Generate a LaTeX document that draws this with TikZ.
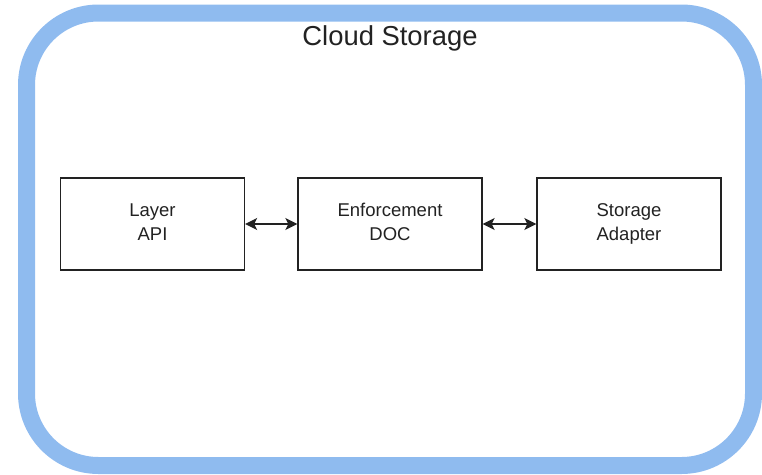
\documentclass[tikz,border=0pt]{standalone}
\usepackage{fontspec}
\setmainfont{Liberation Sans}
\usetikzlibrary{arrows.meta}
\definecolor{frameblue}{RGB}{143,187,239}
\definecolor{inkgray}{RGB}{34,34,34}
\tikzset{
  component/.style={draw=inkgray, line width=1.3pt, minimum width=184pt, minimum height=92pt,
    inner sep=0pt, align=center, font=\fontsize{18.5pt}{24pt}\selectfont, text=inkgray},
  link/.style={line width=1.6pt, inkgray, {Stealth[length=12pt,width=12pt,inset=3pt]}-{Stealth[length=12pt,width=12pt,inset=3pt]}}
}
\begin{document}
\begin{tikzpicture}[x=1pt,y=-1pt]
  \useasboundingbox (0,0) rectangle (762,474);
  % storage frame
  \draw[frameblue, line width=17pt, rounded corners=72pt] (26.5,13) rectangle (753.5,465.5);
  \node[font=\fontsize{27.4pt}{32pt}\selectfont, text=inkgray] (title) at (390,38) {Cloud Storage};
  % components
  \node[component] (api) at (152.5,224) {\strut Layer\\\strut API};
  \node[component] (doc) at (390,224) {\strut Enforcement\\\strut DOC};
  \node[component] (adapter) at (629,224) {\strut Storage\\\strut Adapter};
  % links
  \draw[link] (api) -- (doc);
  \draw[link] (doc) -- (adapter);
\end{tikzpicture}
\end{document}
